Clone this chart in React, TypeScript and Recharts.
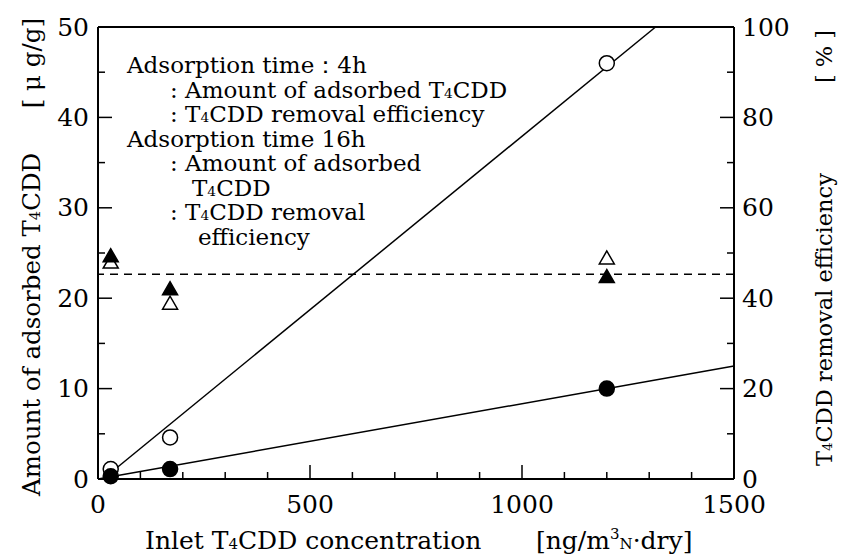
import React from 'react';
import { ComposedChart, Scatter, XAxis, YAxis, ReferenceLine } from 'recharts';

// inlet concentration of each run [ng/m3N-dry]
const concentration = [30, 170, 1200];
// adsorbed amount [ug/g]
const amount4h = [1.1, 4.6, 46.0];
const amount16h = [0.3, 1.1, 10.0];
// removal efficiency [%]
const efficiency4h = [48.0, 38.9, 48.9];
const efficiency16h = [49.4, 42.1, 44.8];
const meanEfficiency = 45.3;

// regression lines (end points)
const fit4hConc = [12, 1315];
const fit4hAmount = [0, 50];
const fit16hConc = [0, 1500];
const fit16hAmount = [0, 12.5];

const xTicks = [0, 100, 200, 300, 400, 500, 600, 700, 800, 900, 1000, 1100, 1200, 1300, 1400, 1500];
const xLabels = [0, 500, 1000, 1500];
const leftTicks = [0, 5, 10, 15, 20, 25, 30, 35, 40, 45, 50];
const leftLabels = [0, 10, 20, 30, 40, 50];
const rightTicks = [0, 10, 20, 30, 40, 50, 60, 70, 80, 90, 100];
const rightLabels = [0, 20, 40, 60, 80, 100];

const FONT = '"DejaVu Serif", "Liberation Serif", serif';
const TICK_FONT = 25;
const MAJOR = 14;
const MINOR = 7;

const toPoints = (xs: number[], ys: number[]) => xs.map((x, i) => ({ conc: x, value: ys[i] }));

const pts4hAmount = toPoints(concentration, amount4h);
const pts16hAmount = toPoints(concentration, amount16h);
const pts4hEff = toPoints(concentration, efficiency4h);
const pts16hEff = toPoints(concentration, efficiency16h);
const line4h = toPoints(fit4hConc, fit4hAmount);
const line16h = toPoints(fit16hConc, fit16hAmount);

// ticks point inward, labels only on the major ones
const BottomTick = (props: any) => {
  const { x, y, payload } = props;
  const major = xLabels.includes(payload.value);
  return (
    <g>
      <line x1={x} x2={x} y1={y} y2={y - (major ? MAJOR : MINOR)} stroke="#000" strokeWidth={1.5} />
      {major && (
        <text x={x} y={y + 25} textAnchor="middle" dominantBaseline="central" fontFamily={FONT} fontSize={TICK_FONT} fill="#000">
          {payload.value}
        </text>
      )}
    </g>
  );
};

const TopTick = (props: any) => {
  const { x, y, payload } = props;
  const major = xLabels.includes(payload.value);
  return <line x1={x} x2={x} y1={y} y2={y + (major ? MAJOR : MINOR)} stroke="#000" strokeWidth={1.5} />;
};

const LeftTick = (props: any) => {
  const { x, y, payload } = props;
  const major = leftLabels.includes(payload.value);
  return (
    <g>
      <line x1={x} x2={x + (major ? MAJOR : MINOR)} y1={y} y2={y} stroke="#000" strokeWidth={1.5} />
      {major && (
        <text x={x - 9} y={y} textAnchor="end" dominantBaseline="central" fontFamily={FONT} fontSize={TICK_FONT} fill="#000">
          {payload.value}
        </text>
      )}
    </g>
  );
};

const RightTick = (props: any) => {
  const { x, y, payload } = props;
  const major = rightLabels.includes(payload.value);
  return (
    <g>
      <line x1={x} x2={x - (major ? MAJOR : MINOR)} y1={y} y2={y} stroke="#000" strokeWidth={1.5} />
      {major && (
        <text x={x + 8} y={y} textAnchor="start" dominantBaseline="central" fontFamily={FONT} fontSize={TICK_FONT} fill="#000">
          {payload.value}
        </text>
      )}
    </g>
  );
};

const Circle = (fill: string) => (props: any) => (
  <circle cx={props.cx} cy={props.cy} r={7.5} fill={fill} stroke="#000" strokeWidth={1.5} />
);

const Triangle = (fill: string) => (props: any) => {
  const { cx, cy } = props;
  const p = `${cx},${cy - 7} ${cx - 7.5},${cy + 6} ${cx + 7.5},${cy + 6}`;
  return <polygon points={p} fill={fill} stroke="#000" strokeWidth={1.5} />;
};

const NoDot = () => <g />;

const sub = (t: string) => <tspan fontSize="0.6em">{t}</tspan>;

const legendRows: { x: number; y: number; content: React.ReactNode }[] = [
  { x: 127, y: 73, content: <>Adsorption time：4h</> },
  { x: 170, y: 98, content: <>: Amount of adsorbed T{sub('4')}CDD</> },
  { x: 170, y: 122, content: <>: T{sub('4')}CDD removal efficiency</> },
  { x: 127, y: 147, content: <>Adsorption time 16h</> },
  { x: 170, y: 171, content: <>: Amount of adsorbed</> },
  { x: 192, y: 196, content: <>T{sub('4')}CDD</> },
  { x: 170, y: 220, content: <>: T{sub('4')}CDD removal</> },
  { x: 198, y: 245, content: <>efficiency</> },
];

export default function App() {
  return (
    <div style={{ position: 'absolute', left: 0, top: 0, width: 841, height: 559, background: '#fff' }}>
      <ComposedChart width={841} height={559} margin={{ top: 7, right: 47, bottom: 40, left: 38 }}>
        <XAxis
          xAxisId="b"
          dataKey="conc"
          type="number"
          domain={[0, 1500]}
          ticks={xTicks}
          interval={0}
          height={40}
          tickSize={0}
          tickMargin={0}
          tickLine={false}
          axisLine={{ stroke: '#000', strokeWidth: 2 }}
          tick={<BottomTick />}
        />
        <XAxis
          xAxisId="t"
          orientation="top"
          type="number"
          domain={[0, 1500]}
          ticks={xTicks}
          interval={0}
          height={20}
          tickSize={0}
          tickMargin={0}
          tickLine={false}
          axisLine={{ stroke: '#000', strokeWidth: 2 }}
          tick={<TopTick />}
        />
        <YAxis
          yAxisId="l"
          dataKey="value"
          type="number"
          domain={[0, 50]}
          ticks={leftTicks}
          interval={0}
          width={60}
          tickSize={0}
          tickMargin={0}
          tickLine={false}
          axisLine={{ stroke: '#000', strokeWidth: 2 }}
          tick={<LeftTick />}
        />
        <YAxis
          yAxisId="r"
          orientation="right"
          dataKey="value"
          type="number"
          domain={[0, 100]}
          ticks={rightTicks}
          interval={0}
          width={60}
          tickSize={0}
          tickMargin={0}
          tickLine={false}
          axisLine={{ stroke: '#000', strokeWidth: 2 }}
          tick={<RightTick />}
        />

        <ReferenceLine
          xAxisId="b"
          yAxisId="r"
          y={meanEfficiency}
          stroke="#000"
          strokeWidth={1.5}
          strokeDasharray="8 6"
        />

        <Scatter xAxisId="b" yAxisId="l" data={line4h} line={{ stroke: '#000', strokeWidth: 1.5 }} shape={NoDot} isAnimationActive={false} />
        <Scatter xAxisId="b" yAxisId="l" data={line16h} line={{ stroke: '#000', strokeWidth: 1.5 }} shape={NoDot} isAnimationActive={false} />

        <Scatter xAxisId="b" yAxisId="r" data={pts4hEff} shape={Triangle('#fff')} isAnimationActive={false} />
        <Scatter xAxisId="b" yAxisId="r" data={pts16hEff} shape={Triangle('#000')} isAnimationActive={false} />
        <Scatter xAxisId="b" yAxisId="l" data={pts4hAmount} shape={Circle('#fff')} isAnimationActive={false} />
        <Scatter xAxisId="b" yAxisId="l" data={pts16hAmount} shape={Circle('#000')} isAnimationActive={false} />
      </ComposedChart>

      <svg width={841} height={559} style={{ position: 'absolute', left: 0, top: 0, pointerEvents: 'none' }}>
        <g fontFamily={FONT} fontSize={23} fill="#000">
          {legendRows.map((r, i) => (
            <text key={i} x={r.x} y={r.y}>{r.content}</text>
          ))}
        </g>

        {/* left axis title */}
        <g fontFamily={FONT} fontSize={24.5} fill="#000">
          <text transform="translate(40,496) rotate(-90)" textAnchor="start">
            Amount of adsorbed T{sub('4')}CDD
          </text>
          <text transform="translate(40,18) rotate(-90)" textAnchor="end" xmlSpace="preserve">
            [ μ g/g]
          </text>
        </g>

        {/* right axis title */}
        <g fontFamily={FONT} fontSize={22.5} fill="#000">
          <text transform="translate(832,466) rotate(-90)" textAnchor="start">
            T{sub('4')}CDD removal efficiency
          </text>
          <text transform="translate(832,83) rotate(-90)" textAnchor="start" letterSpacing={7}>
            [%]
          </text>
        </g>

        {/* x axis title */}
        <g fontFamily={FONT} fontSize={25} fill="#000">
          <text x={145} y={549}>Inlet T{sub('4')}CDD concentration</text>
          <text x={536} y={549}>
            [ng/m<tspan fontSize="0.6em" dy={-10}>3</tspan>
            <tspan fontSize="0.6em" dy={10}>N</tspan>·dry]
          </text>
        </g>
      </svg>
    </div>
  );
}
